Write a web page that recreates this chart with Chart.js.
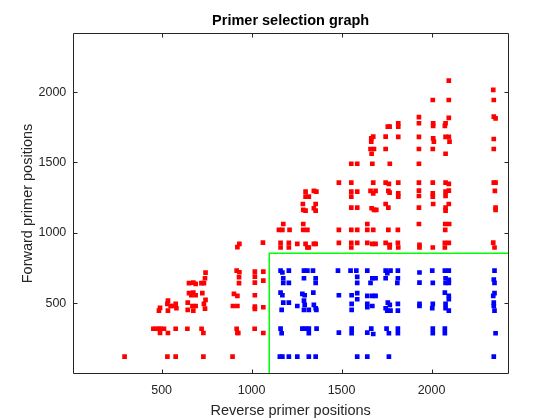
<!DOCTYPE html>
<html>
<head>
<meta charset="utf-8">
<script src="https://cdn.jsdelivr.net/npm/chart.js@4/dist/chart.umd.min.js"></script>
<style>
  body { margin: 0; background: #fff; }
  #c { display: block; }
</style>
</head>
<body>
<canvas id="c" width="560" height="420"></canvas>
<script>
// reverse (x) / forward (y) primer positions
var redRev = [
  294, 532, 578, 732, 894,
  454, 467, 485, 494, 513, 578, 643, 722, 917, 1017,
  491, 535, 732, 921, 926, 1065,
  485, 491, 535, 535, 532, 550, 559, 578, 582, 645, 645, 676, 671, 689, 741, 735, 744,
  652, 676, 689, 665, 726, 652, 676, 689, 721, 735, 741, 744,
  896, 921, 902, 921, 917, 932, 930, 930, 921, 932,
  1018, 1018, 1018, 1065, 1065, 1018, 1018, 1018, 1065, 1063,
  1161, 1207, 1254, 1300, 1346, 1356, 1485, 1554, 1587, 1643, 1671, 1689, 1745, 1768, 1813, 1933, 2074, 2096, 2343,
  1161, 1207, 1310, 1318, 1554, 1767, 1815, 1933, 2007, 2074, 2350,
  1152, 1171, 1211, 1287, 1310, 1485, 1554, 1587, 1643, 1676, 1760, 1813, 2076,
  1176, 1287, 1643, 1930, 2076, 2098,
  1285, 1356, 1287, 1300, 1346, 1356, 1554, 1587, 1667, 1680, 1693, 1745, 1760, 1930, 2009, 2078, 2078, 2096, 2356, 2356,
  1300, 1346, 1360, 1300, 1318, 1554, 1554, 1587, 1661, 1689, 1676, 1760, 1767, 1815, 1815, 1930, 1930, 2007, 2007, 2078, 2078, 2096, 2352,
  1485, 1554, 1676, 1745, 1763, 1815, 1930, 2007, 2078, 2096, 2346, 2356,
  1554, 1587, 1671, 1768, 1930, 2078, 1667,
  1661, 1680, 1745, 1930, 2007, 2346,
  1676, 1665, 1665, 1745, 1815, 1930, 2009, 2013, 2078, 2096, 2100, 2346,
  1757, 1767, 1815, 1815, 1930, 2009, 2009, 2078, 2074,
  1930, 2096, 2346, 2356,
  2007, 2096, 2346, 2343, 2096
];
var redFwd = [
  120, 120, 120, 120, 120,
  318, 318, 318, 318, 318, 318, 318, 318, 318, 318,
  288, 288, 288, 288, 288, 288,
  447, 466, 447, 518, 495, 480, 480, 495, 464, 504, 452, 447, 480, 480, 461, 495, 523,
  571, 575, 556, 556, 571, 642, 646, 637, 642, 642, 677, 717,
  480, 480, 566, 552, 731, 720, 642, 684, 898, 921,
  724, 689, 646, 724, 660, 556, 475, 459, 471, 930,
  928, 928, 921, 921, 921, 921, 928, 928, 928, 928, 921, 921, 928, 914, 928, 914, 928, 928, 930,
  896, 896, 896, 896, 896, 896, 896, 896, 896, 896, 896,
  1021, 1021, 1021, 1021, 1021, 1021, 1021, 1021, 1021, 1021, 1021, 1021, 1021,
  1063, 1063, 1063, 1063, 1063, 1063,
  1205, 1205, 1163, 1158, 1175, 1158, 1179, 1179, 1175, 1163, 1163, 1205, 1179, 1179, 1205, 1179, 1158, 1205, 1179, 1163,
  1293, 1298, 1293, 1257, 1257, 1293, 1257, 1293, 1298, 1298, 1281, 1298, 1286, 1281, 1257, 1300, 1262, 1281, 1257, 1293, 1262, 1300, 1298,
  1357, 1357, 1357, 1357, 1348, 1357, 1357, 1357, 1357, 1348, 1357, 1357,
  1491, 1491, 1491, 1491, 1491, 1562, 1562,
  1596, 1596, 1596, 1596, 1596, 1596,
  1684, 1672, 1648, 1684, 1682, 1682, 1672, 1648, 1682, 1682, 1648, 1667,
  1755, 1755, 1779, 1755, 1779, 1779, 1760, 1779, 1760,
  1822, 1817, 1826, 1814,
  1944, 1944, 1944, 2016, 2082
];

var blueRev = [
  1161, 1171, 1207, 1291, 1310, 1341, 1480, 1550, 1582, 1643, 1745, 1772, 1754, 1813, 1933, 2004, 2074, 2096, 2350,
  1176, 1291, 1356, 1587, 1671, 1689, 1745, 1813, 2078, 2096, 2346,
  1176, 1207, 1356, 1587, 1661, 1810, 1933, 2007, 2078, 2096, 2350,
  1161, 1171, 1282, 1295, 1343, 1485, 1556, 1587, 1587, 1643, 1671, 1689, 2074, 2096, 2096, 2350, 2343,
  1176, 1207, 1167, 1254, 1291, 1295, 1291, 1318, 1346, 1356, 1360, 1556, 1556, 1643, 1643, 1671,
  1757, 1768, 1745, 1754, 1772, 1813, 1813, 1933, 1933, 2007, 2004, 2078, 2078, 2096, 2346, 2346, 2350,
  1161, 1167, 1282, 1300, 1318, 1318, 1361, 1485, 1556, 1556, 1665, 1643, 1676, 1750, 1763, 1813, 1813,
  2007, 2007, 2074, 2074, 2356,
  1157, 1171, 1207, 1254, 1318, 1356, 1587, 1643, 1763, 2346
];
var blueFwd = [
  731, 718, 731, 731, 731, 731, 731, 731, 731, 731, 731, 731, 713, 731, 718, 731, 731, 731, 731,
  677, 677, 677, 687, 677, 677, 677, 677, 677, 665, 668,
  644, 644, 644, 644, 644, 644, 646, 644, 644, 644, 644,
  575, 556, 566, 556, 575, 556, 556, 571, 528, 552, 552, 552, 575, 552, 528, 571, 552,
  504, 504, 452, 480, 518, 488, 452, 452, 488, 464, 452, 495, 452, 495, 471, 480,
  504, 488, 464, 447, 447, 495, 447, 495, 480, 495, 464, 495, 464, 447, 504, 480, 447,
  319, 286, 319, 319, 319, 286, 319, 291, 319, 286, 319, 291, 281, 319, 286, 319, 286,
  319, 286, 319, 286, 286,
  120, 120, 120, 120, 120, 120, 120, 120, 120, 120
];

// green selection boundary
var cutRev = [1098, 1098, 2425];
var cutFwd = [0, 855, 855];

var xTickVals = [500, 1000, 1500, 2000];
var yTickVals = [500, 1000, 1500, 2000];

function pairs(xs, ys) {
  return xs.map(function (v, i) { return { x: v, y: ys[i] }; });
}

var axisColor = '#262626';
var fontFam = '"Liberation Sans", Arial, Helvetica, sans-serif';

// MATLAB style box with inward ticks
var boxPlugin = {
  id: 'box',
  afterDraw: function (chart) {
    var ctx = chart.ctx, a = chart.chartArea;
    var xs = chart.scales.x, ys = chart.scales.y;
    var l = Math.floor(a.left) + 0.5, r = Math.floor(a.right) + 0.5;
    var t = Math.floor(a.top) + 0.5, b = Math.floor(a.bottom) + 0.5;
    var len = 4;
    ctx.save();
    ctx.strokeStyle = axisColor;
    ctx.lineWidth = 1;
    ctx.beginPath();
    ctx.rect(l, t, r - l, b - t);
    xs.ticks.forEach(function (tk) {
      var px = Math.round(xs.getPixelForValue(tk.value)) + 0.5;
      ctx.moveTo(px, b); ctx.lineTo(px, b - len);
      ctx.moveTo(px, t); ctx.lineTo(px, t + len);
    });
    ys.ticks.forEach(function (tk) {
      var py = Math.round(ys.getPixelForValue(tk.value)) + 0.5;
      ctx.moveTo(l, py); ctx.lineTo(l + len, py);
      ctx.moveTo(r, py); ctx.lineTo(r - len, py);
    });
    ctx.stroke();
    ctx.restore();
  }
};

var xMin = 9, xMax = 2425, yMin = 0, yMax = 2417;

new Chart(document.getElementById('c'), {
  type: 'scatter',
  data: {
    datasets: [
      {
        data: pairs(redRev, redFwd),
        pointStyle: 'rect',
        pointRadius: 3.3,
        pointBorderWidth: 0,
        backgroundColor: '#ff0000',
        borderColor: '#ff0000'
      },
      {
        data: pairs(blueRev, blueFwd),
        pointStyle: 'rect',
        pointRadius: 3.3,
        pointBorderWidth: 0,
        backgroundColor: '#0000ff',
        borderColor: '#0000ff'
      },
      {
        type: 'line',
        data: pairs(cutRev, cutFwd),
        showLine: true,
        borderColor: '#00ff00',
        borderWidth: 1.5,
        pointRadius: 0,
        fill: false
      }
    ]
  },
  options: {
    responsive: false,
    animation: false,
    devicePixelRatio: 1,
    layout: { padding: { left: 0, right: 52, top: 0, bottom: 0 } },
    plugins: {
      legend: { display: false },
      tooltip: { enabled: false }
    },
    scales: {
      x: {
        type: 'linear',
        position: 'bottom',
        min: xMin, max: xMax,
        grid: { display: false, drawTicks: false },
        border: { display: false },
        afterBuildTicks: function (s) { s.ticks = xTickVals.map(function (v) { return { value: v }; }); },
        afterFit: function (s) { s.height = 46.5; },
        ticks: {
          color: axisColor,
          padding: 10,
          maxRotation: 0,
          font: { family: fontFam, size: 12.5 },
          callback: function (v) { return String(v); }
        },
        title: {
          display: true,
          text: 'Reverse primer positions',
          color: axisColor,
          font: { family: fontFam, size: 14.5 },
          padding: { top: 0, bottom: 0 }
        }
      },
      x2: {
        type: 'linear',
        position: 'top',
        min: xMin, max: xMax,
        grid: { display: false, drawTicks: false },
        border: { display: false },
        ticks: { display: false },
        afterFit: function (s) { s.height = 33.5; },
        title: {
          display: true,
          text: 'Primer selection graph',
          color: '#000',
          font: { family: fontFam, size: 14.5, weight: 'bold' },
          padding: { top: 12, bottom: 0 }
        }
      },
      y: {
        type: 'linear',
        min: yMin, max: yMax,
        grid: { display: false, drawTicks: false },
        border: { display: false },
        afterBuildTicks: function (s) { s.ticks = yTickVals.map(function (v) { return { value: v }; }); },
        afterFit: function (s) { s.width = 73.3; },
        ticks: {
          color: axisColor,
          padding: 7,
          font: { family: fontFam, size: 12.5 },
          callback: function (v) { return String(v); }
        },
        title: {
          display: true,
          text: 'Forward primer positions',
          color: axisColor,
          font: { family: fontFam, size: 14.5 },
          padding: { top: 19, bottom: 0 }
        }
      }
    }
  },
  plugins: [boxPlugin]
});
</script>
</body>
</html>
